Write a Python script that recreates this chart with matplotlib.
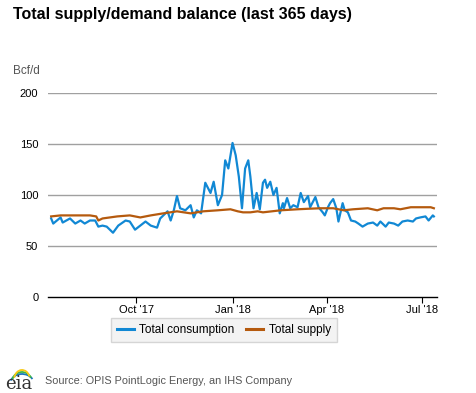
import matplotlib
matplotlib.use("Agg")
import matplotlib.pyplot as plt
from matplotlib.patches import Arc
import pandas as pd

plt.rcParams["font.family"] = ["Liberation Sans", "DejaVu Sans"]

# daily values (Bcf/d)
consumption_dates = [
    "2017-07-12", "2017-07-14", "2017-07-21", "2017-07-23", "2017-07-30", "2017-08-04",
    "2017-08-09", "2017-08-13", "2017-08-18", "2017-08-23", "2017-08-26", "2017-08-30",
    "2017-09-03", "2017-09-09", "2017-09-14", "2017-09-21", "2017-09-25", "2017-09-30",
    "2017-10-05", "2017-10-10", "2017-10-15", "2017-10-21", "2017-10-24", "2017-10-31",
    "2017-11-03", "2017-11-06", "2017-11-09", "2017-11-12", "2017-11-17", "2017-11-22",
    "2017-11-25", "2017-11-28", "2017-12-02", "2017-12-06", "2017-12-11", "2017-12-14",
    "2017-12-18", "2017-12-22", "2017-12-25", "2017-12-28", "2018-01-01", "2018-01-04",
    "2018-01-07", "2018-01-10", "2018-01-13", "2018-01-16", "2018-01-18", "2018-01-21",
    "2018-01-24", "2018-01-27", "2018-01-30", "2018-02-01", "2018-02-03", "2018-02-06",
    "2018-02-09", "2018-02-12", "2018-02-15", "2018-02-18", "2018-02-19", "2018-02-22",
    "2018-02-25", "2018-02-28", "2018-03-04", "2018-03-07", "2018-03-10", "2018-03-14",
    "2018-03-16", "2018-03-21", "2018-03-24", "2018-03-28", "2018-03-30", "2018-04-02",
    "2018-04-04", "2018-04-07", "2018-04-10", "2018-04-12", "2018-04-16", "2018-04-18",
    "2018-04-21", "2018-04-24", "2018-04-28", "2018-05-01", "2018-05-05", "2018-05-10",
    "2018-05-15", "2018-05-19", "2018-05-22", "2018-05-27", "2018-05-30", "2018-06-04",
    "2018-06-08", "2018-06-12", "2018-06-17", "2018-06-22", "2018-06-25", "2018-06-29",
    "2018-07-04", "2018-07-07", "2018-07-11", "2018-07-12",
]
consumption = [
    77, 72, 78, 73, 77, 72,
    75, 72, 75, 75, 69, 70,
    69, 63, 70, 75, 74, 66,
    70, 74, 70, 68, 77, 84,
    75, 85, 99, 87, 85, 90,
    78, 85, 82, 112, 102, 113,
    90, 100, 134, 126, 151, 139,
    118, 87, 126, 134, 118, 87,
    102, 86, 112, 115, 107, 113,
    100, 107, 82, 92, 87, 97,
    87, 90, 88, 102, 93, 99,
    88, 98, 88, 83, 80, 88,
    92, 96, 87, 74, 92, 85,
    83, 75, 74, 72, 69, 72,
    73, 70, 74, 69, 73, 72,
    70, 74, 75, 74, 77, 78,
    79, 75, 80, 79,
]

supply_dates = [
    "2017-07-12", "2017-07-21", "2017-07-30", "2017-08-09", "2017-08-18", "2017-08-24",
    "2017-08-26", "2017-08-30", "2017-09-13", "2017-09-25", "2017-10-05", "2017-10-15",
    "2017-10-27", "2017-11-09", "2017-11-22", "2017-12-04", "2017-12-18", "2017-12-30",
    "2018-01-06", "2018-01-11", "2018-01-18", "2018-01-25", "2018-01-30", "2018-02-16",
    "2018-03-04", "2018-03-14", "2018-03-26", "2018-04-07", "2018-04-17", "2018-04-26",
    "2018-05-10", "2018-05-19", "2018-05-25", "2018-06-04", "2018-06-10", "2018-06-20",
    "2018-06-29", "2018-07-09", "2018-07-12",
]
supply = [
    79, 80, 80, 80, 80, 79,
    75, 77, 79, 80, 78, 80,
    82, 84, 82, 84, 85, 86,
    84, 83, 83, 84, 83, 85,
    86, 86.5, 87, 87, 85, 86,
    87, 85, 87, 87, 86, 88,
    88, 88, 87,
]

month_ticks = ["2017-10-01", "2018-01-01", "2018-04-01", "2018-07-01"]
tick_labels = ["Oct '17", "Jan '18", "Apr '18", "Jul '18"]
y_ticks = [0, 50, 100, 150, 200]

blue = "#1188d4"
brown = "#b55a0e"

fig = plt.figure(figsize=(4.77, 3.93), dpi=100)
ax = fig.add_axes([48 / 477, 1 - 297 / 393, (437 - 48) / 477, (297 - 93) / 393])

ax.plot(pd.to_datetime(consumption_dates), consumption, color=blue, lw=1.6,
        label="Total consumption", zorder=3)
ax.plot(pd.to_datetime(supply_dates), supply, color=brown, lw=1.6,
        label="Total supply", zorder=4)

ax.set_xlim(pd.Timestamp("2017-07-09"), pd.Timestamp("2018-07-15"))
ax.set_ylim(0, 200)
ax.set_yticks(y_ticks)
ax.set_yticklabels([str(v) for v in y_ticks], fontsize=8)
ax.set_xticks(pd.to_datetime(month_ticks))
ax.set_xticklabels(tick_labels, fontsize=8)
ax.tick_params(axis="y", length=0, pad=7)
ax.tick_params(axis="x", length=4, width=0.8, pad=2, color="black")

for v in y_ticks[1:]:
    ax.axhline(v, color="#a0a0a0", lw=1, zorder=1)

for s in ["top", "right", "left"]:
    ax.spines[s].set_visible(False)
ax.spines["bottom"].set_color("black")
ax.spines["bottom"].set_linewidth(1)

fig.text(13 / 477, 1 - 14 / 393, "Total supply/demand balance (last 365 days)",
         fontsize=11.5, fontweight="bold", va="center", ha="left")
fig.text(13 / 477, 1 - 71 / 393, "Bcf/d", fontsize=8.5, color="#555555",
         va="center", ha="left")

leg = fig.legend(loc="center", bbox_to_anchor=(224 / 477, 1 - 330 / 393), ncol=2,
                 fontsize=8.5, frameon=True, fancybox=False, handlelength=1.4,
                 handletextpad=0.5, columnspacing=1.0, borderpad=0.5)
leg.get_frame().set_facecolor("#f0f0f0")
leg.get_frame().set_edgecolor("#cccccc")
for line in leg.get_lines():
    line.set_linewidth(2.2)

# eia logo
fig.text(19 / 477, 1 - 384 / 393, "eia", fontsize=13, family="DejaVu Serif",
         color="#333333", ha="center", va="center")
for w, c, off in [(24, "#1b75bc", 0), (20, "#39b54a", 2), (16, "#f7c814", 4)]:
    fig.patches.append(Arc((22 / 477, 1 - (384 - off) / 393), w / 477, 20 / 393,
                           theta1=30, theta2=160, color=c, lw=1.3,
                           transform=fig.transFigure))

fig.text(45 / 477, 1 - 381 / 393, "Source: OPIS PointLogic Energy, an IHS Company",
         fontsize=7.8, color="#555555", ha="left", va="center")

fig.savefig("out.png", dpi=100)
